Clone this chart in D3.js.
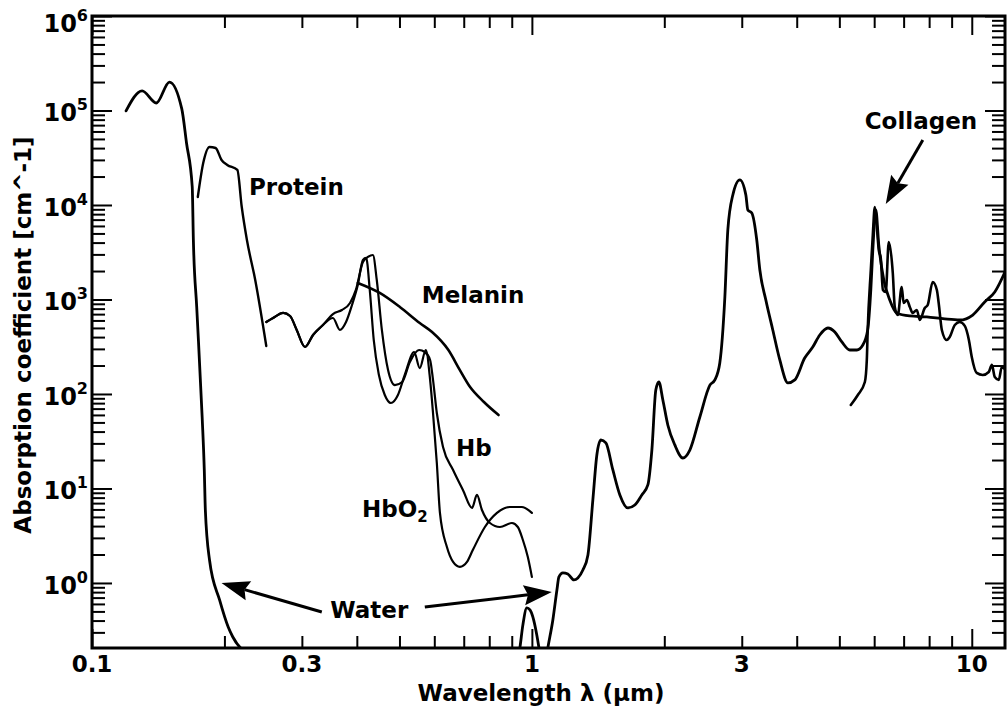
<!DOCTYPE html>
<html><head><meta charset="utf-8">
<script src="https://cdn.jsdelivr.net/npm/d3@7"></script>
<style>
body{margin:0;background:#fff}
svg{display:block}
text{font-family:'DejaVu Sans',sans-serif;font-weight:bold;fill:#000}
</style>
</head><body>
<svg id="c" width="1008" height="715"></svg>
<script>
// ---- data: [wavelength µm, absorption coefficient cm^-1] ----
const waterUV = [[0.1195,99000],[0.130,161000],[0.140,120000],[0.150,200000],[0.160,104000],[0.164,45300],[0.169,15500],[0.170,4260],[0.173,833],[0.178,57.1],[0.180,15.7],[0.181,5.92],[0.185,1.75],[0.195,0.661],[0.204,0.342],[0.209,0.268],[0.229,0.173]];
const waterNIRa = [[0.929,0.153],[0.939,0.205],[0.954,0.36],[0.974,0.544],[0.990,0.518],[1.005,0.437],[1.026,0.282],[1.048,0.153]];
const waterNIRb = [[1.076,0.153],[1.087,0.205],[1.116,0.406],[1.140,0.843],[1.152,1.16],[1.176,1.28],[1.207,1.245],[1.246,1.076],[1.272,1.13],[1.306,1.37],[1.341,1.98],[1.376,7.56],[1.405,22.6],[1.435,32.6],[1.473,30.3],[1.528,15.7],[1.585,8.54],[1.652,6.22],[1.714,6.69],[1.778,8.54],[1.835,10.9],[1.874,25.5],[1.913,110],[1.944,134],[1.985,86.4],[2.037,47.0],[2.113,28.9],[2.204,21.0],[2.286,25.5],[2.409,57.1],[2.539,124],[2.606,141],[2.674,213],[2.746,1062],[2.789,5440],[2.863,12760],[2.970,18400],[3.065,12760],[3.097,8850],[3.162,8230],[3.245,4260],[3.298,2050],[3.403,988],[3.529,476],[3.661,229],[3.819,131],[3.96,141],[4.17,240],[4.35,314],[4.513,421],[4.71,499],[4.883,453],[5.066,355],[5.28,292],[5.48,292],[5.654,330],[5.80,476],[5.895,1261],[5.957,3340],[6.052,8850],[6.146,3775],[6.31,1608],[6.51,988],[6.75,720],[7.23,669],[7.90,653],[8.68,622],[9.39,607],[10.05,685],[10.70,941],[11.28,1200],[12.01,2154]];
const protein = [[0.174,12150],[0.179,27800],[0.185,41100],[0.191,40100],[0.197,29900],[0.203,26500],[0.214,23500],[0.219,9520],[0.225,4260],[0.235,1608],[0.249,322]];
const melanin = [[0.402,1496],[0.451,1172],[0.501,833],[0.556,564],[0.593,453],[0.646,292],[0.686,179],[0.723,119],[0.778,82.3],[0.840,59.9]];
const hb = [[0.249,578],[0.258,637],[0.272,720],[0.282,669],[0.292,476],[0.305,314],[0.318,421],[0.335,537],[0.353,702],[0.370,774],[0.386,918],[0.398,1261],[0.413,2494],[0.424,2818],[0.435,2958],[0.444,1608],[0.456,476],[0.471,179],[0.488,124],[0.507,134],[0.528,218],[0.554,292],[0.571,278],[0.587,229],[0.596,141],[0.608,62.9],[0.628,27.5],[0.662,15.7],[0.697,9.64],[0.731,6.22],[0.750,8.54],[0.770,5.92],[0.803,4.31],[0.846,3.91],[0.901,4.31],[0.929,3.91],[0.954,2.85],[0.979,1.88],[1.0,1.16]];
const hbo2 = [[0.249,578],[0.258,637],[0.272,720],[0.282,669],[0.292,476],[0.305,314],[0.318,421],[0.335,537],[0.353,637],[0.366,476],[0.378,578],[0.390,875],[0.402,1423],[0.413,2618],[0.420,2750],[0.428,1261],[0.437,373],[0.449,159],[0.463,97.6],[0.478,80.3],[0.496,97.6],[0.514,159],[0.540,278],[0.556,188],[0.574,292],[0.587,141],[0.596,62.9],[0.608,18.6],[0.618,5.51],[0.641,2.40],[0.662,1.67],[0.686,1.48],[0.712,1.67],[0.734,2.23],[0.782,3.91],[0.833,5.51],[0.891,6.37],[0.949,6.37],[1.0,5.51]];
const collagen = [[5.309,76.5],[5.508,97.6],[5.714,134],[5.773,229],[5.80,476],[5.895,2050],[5.957,4815],[6.02,9520],[6.08,6140],[6.146,3340],[6.21,2750],[6.28,1261],[6.375,1200],[6.476,4060],[6.614,1906],[6.683,833],[6.79,685],[6.93,1357],[7.00,918],[7.12,988],[7.23,833],[7.34,720],[7.50,774],[7.62,607],[7.82,813],[7.94,875],[8.15,1531],[8.33,1261],[8.41,918],[8.55,476],[8.77,373],[8.91,401],[9.15,537],[9.39,578],[9.64,525],[9.85,373],[10.0,246],[10.26,167],[10.59,159],[10.93,171],[11.11,203],[11.28,151],[11.52,141],[11.70,193],[11.95,179]];

const xTickLabels = [0.1, 0.3, 1, 3, 10];
const yTickExps = [0, 1, 2, 3, 4, 5, 6];

const labels = [
  {t:"Protein", x:0.2275, y:12760},
  {t:"Melanin", x:0.562, y:918},
  {t:"Hb", x:0.672, y:22.1},
  {t:"HbO", sub:"2", x:0.411, y:4.99},
  {t:"Water", x:0.348, y:0.426},
  {t:"Collagen", x:5.71, y:63700}
];
const arrows = [
  {from:[0.333,0.493], to:[0.197,1.0]},
  {from:[0.571,0.557], to:[1.11,0.803]},
  {from:[7.74,48700], to:[6.375,10250]}
];

// ---- layout ----
const m = {l:92, r:1005, t:16, b:648};
const svg = d3.select("#c");
const x = d3.scaleLog().domain([0.1, 11.9]).range([m.l, m.r]);
const y = d3.scaleLog().domain([0.205, 1e6]).range([m.b, m.t]);

svg.append("defs").append("clipPath").attr("id","clip")
  .append("rect").attr("x",m.l).attr("y",m.t).attr("width",m.r-m.l).attr("height",m.b-m.t);

const isMajor = v => Math.abs(Math.log10(v) - Math.round(Math.log10(v))) < 1e-9;
const xT = x.ticks(), yT = y.ticks();
const xMaj = xT.filter(isMajor), xMin = xT.filter(v=>!isMajor(v));
const yMaj = yT.filter(isMajor), yMin = yT.filter(v=>!isMajor(v));

function axisG(axis, tx, ty){
  const g = svg.append("g").attr("transform",`translate(${tx},${ty})`).call(axis);
  g.select(".domain").remove();
  g.selectAll("line").attr("stroke","#000").attr("stroke-width",2);
  return g;
}
axisG(d3.axisBottom(x).tickValues(xMin).tickSize(-12).tickFormat(""),0,m.b);
axisG(d3.axisBottom(x).tickValues(xMaj).tickSize(-19).tickFormat(""),0,m.b);
axisG(d3.axisTop(x).tickValues(xMin).tickSize(-12).tickFormat(""),0,m.t);
axisG(d3.axisTop(x).tickValues(xMaj).tickSize(-19).tickFormat(""),0,m.t);
axisG(d3.axisLeft(y).tickValues(yMin).tickSize(-13).tickFormat(""),m.l,0);
axisG(d3.axisLeft(y).tickValues(yMaj).tickSize(-20).tickFormat(""),m.l,0);
axisG(d3.axisRight(y).tickValues(yMin).tickSize(-13).tickFormat(""),m.r,0);
axisG(d3.axisRight(y).tickValues(yMaj).tickSize(-20).tickFormat(""),m.r,0);

// frame
svg.append("rect").attr("x",m.l).attr("y",m.t).attr("width",m.r-m.l).attr("height",m.b-m.t)
  .attr("fill","none").attr("stroke","#000").attr("stroke-width",3);

// x tick labels
svg.append("g").selectAll("text").data(xTickLabels).join("text")
  .attr("x",d=>x(d)).attr("y",672).attr("text-anchor","middle").attr("font-size",23)
  .text(d=>String(d));

// y tick labels
const yl = svg.append("g").selectAll("text").data(yTickExps).join("text")
  .attr("x",88).attr("y",d=>Math.max(y(Math.pow(10,d))+11,32)).attr("text-anchor","end").attr("font-size",24);
yl.append("tspan").text("10");
yl.append("tspan").attr("font-size",16).attr("dy",-11).text(d=>String(d));

// axis titles
svg.append("text").attr("x",541).attr("y",701).attr("text-anchor","middle").attr("font-size",23)
  .text("Wavelength λ (μm)");
svg.append("text").attr("transform","translate(31,335) rotate(-90)").attr("text-anchor","middle").attr("font-size",23)
  .text("Absorption coefficient [cm^-1]");

// curves
const line = d3.line().x(d=>x(d[0])).y(d=>y(d[1])).curve(d3.curveMonotoneX);
const cg = svg.append("g").attr("clip-path","url(#clip)");
const series = [
  {d:waterUV, w:2.8},{d:waterNIRa, w:2.8},{d:waterNIRb, w:2.8},
  {d:protein, w:2.4},{d:melanin, w:2.6},{d:hb, w:2.2},{d:hbo2, w:2.2},{d:collagen, w:2.6}
];
cg.selectAll("path").data(series).join("path")
  .attr("d",s=>line(s.d)).attr("fill","none").attr("stroke","#000")
  .attr("stroke-width",s=>s.w).attr("stroke-linejoin","round").attr("stroke-linecap","round");

// labels
const lt = svg.append("g").selectAll("text").data(labels).join("text")
  .attr("x",d=>x(d.x)).attr("y",d=>y(d.y)).attr("font-size",23);
lt.append("tspan").text(d=>d.t);
lt.filter(d=>d.sub).append("tspan").attr("font-size",15).attr("dy",5).text(d=>d.sub);

// arrows
const ag = svg.append("g");
arrows.forEach(a=>{
  const x1=x(a.from[0]), y1=y(a.from[1]), x2=x(a.to[0]), y2=y(a.to[1]);
  const ang=Math.atan2(y2-y1,x2-x1), L=28, Wd=10;
  const bx=x2-L*Math.cos(ang), by=y2-L*Math.sin(ang);
  ag.append("line").attr("x1",x1).attr("y1",y1).attr("x2",bx+4*Math.cos(ang)).attr("y2",by+4*Math.sin(ang))
    .attr("stroke","#000").attr("stroke-width",3);
  const px=-Math.sin(ang), py=Math.cos(ang);
  ag.append("path").attr("d",`M${x2},${y2}L${bx+Wd*px},${by+Wd*py}L${bx+4*Math.cos(ang)},${by+4*Math.sin(ang)}L${bx-Wd*px},${by-Wd*py}Z`)
    .attr("fill","#000");
});
</script>
</body></html>
